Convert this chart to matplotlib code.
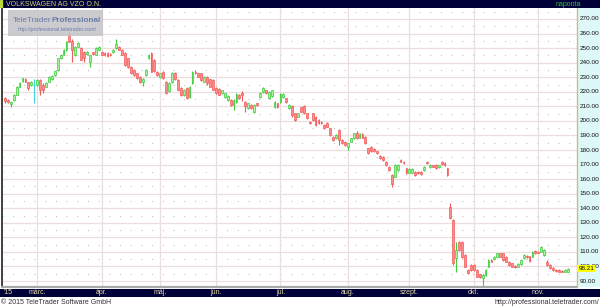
import numpy as np
import pandas as pd
import matplotlib
matplotlib.use("Agg")
import matplotlib.pyplot as plt
from matplotlib.patches import Rectangle

plt.rcParams['font.family'] = ['Liberation Sans', 'DejaVu Sans']

# daily OHLC, VW Vz, 13 Feb 2015 .. 16 Nov 2015 (Xetra trading days)
opens = [
    215.5, 214.5, 211.5, 214.5, 217.8, 223.5, 227.7, 229.0, 226.5, 224.7,
    224.5, 224.7, 228.0, 224.7, 223.5, 227.0, 228.5, 231.6, 235.0, 243.0,
    245.3, 248.7, 260.0, 255.0, 245.0, 251.0, 250.0, 247.6, 246.0, 240.7,
    247.0, 245.3, 249.0, 247.6, 246.5, 246.5, 246.0, 247.0, 250.0, 251.0,
    249.0, 246.4, 243.0, 237.3, 235.0, 232.7, 230.4, 227.0, 231.6, 243.0,
    246.4, 242.0, 233.9, 230.0, 233.9, 227.0, 220.5, 226.5, 233.0, 228.0,
    222.4, 217.8, 222.4, 216.7, 225.8, 233.9, 232.7, 232.7, 227.0, 230.4,
    228.6, 228.1, 222.4, 222.0, 219.0, 216.7, 214.4, 214.4, 211.0, 213.0,
    217.8, 219.0, 213.2, 208.7, 211.0, 206.4, 212.0, 216.7, 220.0, 221.0,
    215.6, 217.0, 209.8, 212.0, 213.2, 216.7, 215.6, 208.7, 210.5, 205.2,
    203.0, 209.3, 210.2, 205.2, 199.5, 205.2, 202.9, 200.6, 199.5, 197.2,
    198.8, 194.9, 189.2, 188.0, 193.7, 186.9, 185.7, 182.3, 185.7, 188.0,
    192.0, 188.5, 191.0, 189.2, 181.2, 182.3, 181.0, 179.0, 176.0, 175.4,
    172.0, 168.6, 162.9, 161.7, 166.3, 173.2, 172.0, 167.4, 164.5, 164.5,
    165.2, 165.2, 165.0, 166.3, 172.0, 168.0, 169.5, 169.7, 168.0, 172.0,
    171.0, 167.4, 141.1, 131.9, 105.6, 117.0, 117.0, 107.9, 97.6, 101.0,
    101.0, 97.6, 94.5, 92.0, 94.2, 99.9, 104.5, 105.0, 106.8, 109.0,
    109.0, 106.8, 103.3, 102.2, 100.5, 99.9, 101.5, 105.6, 107.4, 107.0,
    106.8, 110.7, 110.2, 110.2, 108.0, 103.3, 101.0, 98.8, 97.6, 97.6,
    97.0, 96.5, 96.5,
]
closes = [
    213.5, 213.2, 213.0, 217.8, 223.5, 226.0, 229.3, 227.0, 222.4, 227.0,
    224.5, 228.0, 221.3, 221.3, 225.8, 230.4, 231.0, 234.0, 243.0, 245.3,
    248.7, 254.5, 254.5, 248.7, 251.0, 253.3, 242.0, 243.0, 247.5, 245.0,
    246.0, 250.0, 251.0, 245.3, 245.3, 244.6, 245.0, 249.0, 253.0, 249.0,
    245.3, 238.4, 237.0, 232.7, 231.6, 229.3, 227.0, 229.0, 235.0, 245.3,
    233.9, 234.0, 231.6, 232.7, 229.3, 219.0, 226.0, 233.0, 228.6, 221.3,
    217.8, 221.3, 215.6, 223.5, 233.9, 232.7, 230.4, 228.1, 230.4, 225.8,
    223.5, 221.3, 219.0, 218.0, 221.0, 219.0, 217.1, 211.0, 214.4, 218.5,
    215.6, 217.5, 210.2, 212.0, 208.7, 211.0, 211.0, 219.4, 222.4, 219.0,
    220.0, 221.0, 213.2, 209.8, 218.5, 218.5, 213.2, 211.0, 204.0, 200.6,
    205.2, 206.4, 205.2, 201.8, 198.3, 200.6, 197.2, 198.3, 198.3, 194.9,
    196.0, 190.3, 186.9, 190.3, 186.9, 184.6, 183.5, 184.6, 188.0, 191.5,
    188.0, 191.0, 188.5, 184.6, 177.7, 179.0, 179.0, 177.7, 174.5, 173.2,
    169.7, 166.3, 156.5, 169.7, 169.7, 172.0, 171.0, 164.0, 167.0, 167.0,
    162.9, 164.0, 163.5, 168.6, 170.9, 170.0, 168.5, 167.4, 169.5, 170.4,
    169.5, 162.9, 133.1, 102.2, 111.4, 111.4, 106.5, 99.9, 95.3, 97.6,
    97.6, 93.0, 92.5, 94.2, 97.6, 104.5, 103.3, 106.8, 109.0, 106.8,
    104.5, 103.3, 101.0, 99.9, 99.5, 101.8, 104.5, 107.9, 106.2, 103.8,
    110.2, 109.0, 109.5, 113.6, 111.4, 101.0, 98.8, 97.6, 97.0, 96.5,
    96.5, 97.6, 98.21,
]
highs = [
    216.5, 215.0, 213.5, 218.5, 224.0, 226.5, 229.8, 229.5, 227.0, 227.5,
    229.0, 228.5, 228.5, 226.0, 226.5, 231.0, 231.5, 234.5, 243.5, 246.0,
    249.5, 255.0, 262.0, 256.0, 251.5, 254.0, 250.5, 248.0, 248.0, 245.5,
    247.5, 250.5, 251.5, 248.0, 247.0, 247.0, 246.5, 249.5, 256.0, 251.5,
    249.5, 247.0, 243.5, 237.8, 235.5, 233.0, 231.0, 229.5, 235.5, 246.0,
    247.0, 242.5, 234.5, 233.0, 234.5, 227.5, 226.5, 233.5, 233.5, 228.5,
    223.0, 221.8, 223.0, 224.0, 234.5, 235.0, 233.2, 233.2, 231.0, 231.0,
    229.0, 228.5, 223.0, 222.5, 221.5, 219.5, 217.6, 215.0, 215.0, 219.0,
    218.3, 220.5, 213.7, 212.5, 211.5, 211.5, 212.5, 220.0, 223.0, 221.5,
    220.5, 221.5, 213.7, 212.5, 219.0, 219.0, 216.0, 211.5, 211.0, 205.7,
    205.7, 209.8, 210.7, 205.7, 200.0, 205.7, 203.4, 201.1, 200.0, 197.7,
    199.3, 195.4, 189.7, 190.8, 194.2, 187.4, 186.2, 185.1, 188.5, 192.0,
    193.0, 191.5, 191.5, 189.7, 181.7, 182.8, 181.5, 179.5, 176.5, 175.9,
    172.5, 169.1, 163.4, 170.2, 170.2, 173.7, 172.5, 167.9, 167.5, 167.5,
    165.7, 165.7, 165.5, 169.1, 172.5, 170.5, 170.0, 170.2, 170.0, 172.5,
    171.5, 167.9, 143.4, 132.4, 117.0, 117.5, 117.5, 108.4, 98.1, 101.5,
    101.5, 98.1, 95.0, 94.7, 98.1, 105.0, 105.0, 107.3, 109.5, 109.5,
    109.5, 107.3, 103.8, 102.7, 101.0, 102.3, 105.0, 108.4, 107.9, 107.5,
    110.7, 111.2, 110.7, 114.1, 111.9, 104.4, 101.5, 99.3, 98.1, 98.1,
    97.5, 98.1, 98.7,
]
lows = [
    212.5, 212.5, 209.5, 214.0, 217.5, 223.0, 227.0, 226.5, 221.5, 224.0,
    212.0, 224.0, 218.0, 219.0, 223.0, 226.5, 228.0, 231.0, 234.5, 242.5,
    245.0, 248.0, 254.0, 240.7, 244.5, 250.5, 241.5, 240.7, 245.5, 237.0,
    245.5, 245.0, 248.5, 245.0, 244.5, 244.0, 244.5, 246.5, 249.5, 248.5,
    245.0, 238.0, 236.5, 232.0, 231.0, 229.0, 226.0, 224.0, 231.0, 242.5,
    233.5, 233.5, 231.0, 229.5, 229.0, 218.5, 220.0, 226.0, 228.0, 221.0,
    217.0, 217.0, 215.0, 216.0, 225.5, 232.0, 230.0, 227.5, 226.5, 225.0,
    223.0, 221.0, 218.5, 217.5, 218.5, 216.0, 214.0, 210.5, 207.5, 212.5,
    215.0, 214.0, 206.4, 208.0, 208.0, 205.5, 210.5, 216.0, 219.5, 218.5,
    215.0, 216.5, 209.0, 209.0, 212.5, 216.0, 212.5, 208.0, 203.0, 200.0,
    202.5, 206.0, 204.7, 201.3, 197.8, 200.0, 196.7, 197.8, 197.8, 194.4,
    195.5, 189.8, 186.4, 187.5, 183.5, 184.1, 183.0, 180.0, 185.2, 187.5,
    187.5, 188.0, 188.0, 184.1, 177.2, 178.5, 178.5, 177.2, 174.0, 172.7,
    169.2, 165.8, 154.8, 161.2, 165.8, 171.5, 170.5, 163.5, 164.0, 164.0,
    162.4, 163.5, 163.0, 165.8, 170.4, 167.5, 168.0, 166.9, 167.5, 169.9,
    169.0, 162.4, 132.6, 101.0, 96.4, 110.9, 106.0, 99.4, 94.8, 97.1,
    97.1, 92.5, 92.0, 86.2, 93.7, 99.4, 102.8, 104.5, 106.3, 106.3,
    104.0, 102.8, 100.5, 99.4, 99.0, 99.4, 101.0, 105.1, 105.7, 103.3,
    106.3, 108.5, 109.0, 109.7, 107.5, 100.5, 98.3, 97.1, 96.5, 96.0,
    96.0, 96.0, 96.0,
]
holidays = ['2015-04-03', '2015-04-06', '2015-05-01', '2015-05-25']
month_names = {3: 'márc.', 4: 'ápr.', 5: 'máj.', 6: 'jún.', 7: 'júl.',
               8: 'aug.', 9: 'szept.', 10: 'okt.', 11: 'nov.'}
price_ticks = list(range(90, 280, 10))
title = 'VOLKSWAGEN AG VZO O.N.'
last_price = '98.21'

dates = pd.bdate_range('2015-02-13', '2015-11-16', freq='C', holidays=holidays)
o = np.array(opens)
c = np.array(closes)
x = np.arange(len(c))

W, H = 600, 306
fig = plt.figure(figsize=(W / 100, H / 100), dpi=100)
fig.patch.set_facecolor('white')


def fx(px):
    return px / W


def fy(py):
    return 1 - py / H


# main chart
ax = fig.add_axes([fx(2), fy(287), fx(575), 279 / H])
ax.set_facecolor('white')
ax.set_xlim(-1, 195.2)
ax.set_ylim(85.9, 277.55)
for s in ax.spines.values():
    s.set_visible(False)
ax.spines['left'].set_visible(True)
ax.spines['left'].set_color('#202020')
ax.spines['left'].set_linewidth(1.2)
ax.spines['bottom'].set_visible(True)
ax.spines['bottom'].set_color('#a8a8a8')
ax.spines['bottom'].set_linewidth(1.6)
ax.set_xticks([])
ax.set_yticks([])

for p in price_ticks:
    ax.axhline(p, color='#eadede', lw=0.9, zorder=0)
    ax.axhline(p + 5, color='#b8b8b8', lw=0.7, ls=(0, (1, 10)), zorder=0)

month_idx = [i for i in range(1, len(dates)) if dates[i].month != dates[i - 1].month]
for i in month_idx:
    ax.axvline(i, color='#eadede', lw=0.9, zorder=0)

# candles
face = np.where(c > o, '#a6f0a0', np.where(c < o, '#ff8e8e', '#70e0e8'))
edge = np.where(c > o, '#3ccc3c', np.where(c < o, '#f05a5a', '#40d0e0'))
ax.vlines(x, lows, highs, colors=edge, lw=0.8, zorder=2)
body_lo = np.minimum(o, c)
body_h = np.maximum(np.abs(c - o), 0.5)
ax.bar(x, body_h, bottom=body_lo, width=0.62, color=face, edgecolor=edge,
       lw=0.5, zorder=3)

# watermark
fig.patches.append(Rectangle((fx(8), fy(36)), fx(95), 26 / H, transform=fig.transFigure,
                             facecolor='#c4c4c8', edgecolor='none', alpha=0.85, zorder=5))
fig.text(fx(13), fy(21), 'TeleTrader', fontsize=5.9, color='#6a7ca6', va='center', zorder=6)
fig.text(fx(51), fy(21), 'Professional', fontsize=5.9, color='#6a7ca6', va='center',
         fontweight='bold', zorder=6)
fig.text(fx(97), fy(30), 'http://professional.teletrader.com/', fontsize=3.8,
         color='#6a7ca6', va='center', ha='right', zorder=6)

# right price panel
axr = fig.add_axes([fx(577), fy(287), fx(23), 279 / H], sharey=ax)
axr.set_facecolor('#def8fa')
axr.set_xlim(0, 1)
for s in axr.spines.values():
    s.set_visible(False)
axr.spines['left'].set_visible(True)
axr.spines['left'].set_color('#c8c078')
axr.spines['left'].set_linewidth(1.0)
axr.tick_params(left=False, labelleft=False, bottom=False, labelbottom=False)
for p in price_ticks:
    axr.text(0.1, p, f'{p:.2f}', fontsize=4.6, va='center', ha='left', color='#101010')
axr.text(0.06, closes[-1] + 0.6, last_price, fontsize=4.6, va='center', ha='left',
         color='#101010', bbox=dict(boxstyle='square,pad=0.15', fc='#ffff00', ec='none'),
         zorder=5)

# top title bar
axt = fig.add_axes([0, fy(8), 1, 8 / H])
axt.set_facecolor('#000038')
axt.set_xticks([])
axt.set_yticks([])
for s in axt.spines.values():
    s.set_visible(False)
axt.add_patch(Rectangle((0, 0), 0.004, 1, transform=axt.transAxes, color='#b8d838'))
axt.text(fx(6), 0.5, title, fontsize=5.0, color='#d4d470', va='center', ha='left',
         transform=axt.transAxes)
axt.text(fx(556), 0.5, 'naponta', fontsize=5.0, color='#30c030', va='center', ha='left',
         transform=axt.transAxes)

# date bar
axd = fig.add_axes([0, fy(297), 1, 8.5 / H])
axd.set_facecolor('#000038')
axd.set_xlim(-1 - 2 / 2.93, 195.2 + 23 / 2.93)
axd.set_ylim(0, 1)
axd.set_xticks([])
axd.set_yticks([])
for s in axd.spines.values():
    s.set_visible(False)
axd.text(-0.3, 0.5, "'15", fontsize=5.0, color='#e8e0a8', va='center', ha='left')
for i in month_idx:
    axd.text(i, 0.5, month_names[dates[i].month], fontsize=5.0, color='#e8e0a8',
             va='center', ha='center')

# footer
fig.text(fx(1), fy(302), '© 2015 TeleTrader Software GmbH', fontsize=5.0, color='#303030',
         va='center', ha='left')
fig.text(fx(599), fy(302), 'http://professional.teletrader.com/', fontsize=5.0,
         color='#303030', va='center', ha='right')

fig.savefig('out.png', dpi=100)
